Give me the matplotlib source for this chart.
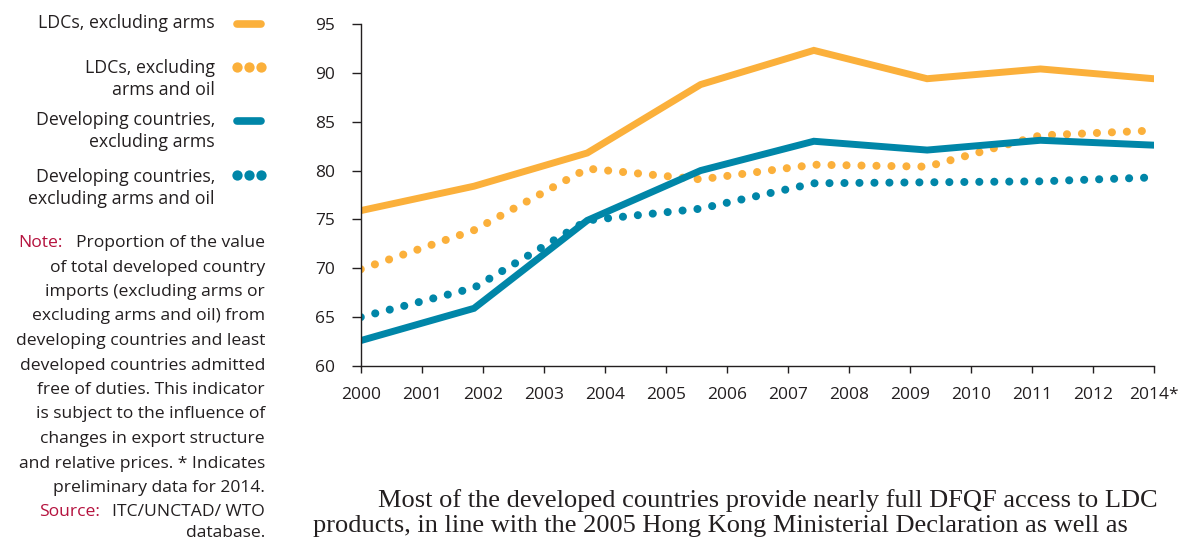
import matplotlib
matplotlib.use('Agg')
import matplotlib.pyplot as plt

plt.rcParams['font.family'] = ['Open Sans', 'DejaVu Sans']

# values (8 points, evenly spaced along the axis)
ldc_arms = [75.9, 78.4, 81.8, 88.8, 92.3, 89.4, 90.4, 89.4]
ldc_arms_oil = [69.9, 73.9, 80.2, 79.1, 80.6, 80.4, 83.6, 84.1]
dev_arms = [62.6, 65.9, 74.9, 80.0, 83.0, 82.1, 83.1, 82.6]
dev_arms_oil = [65.0, 68.0, 74.9, 76.1, 78.7, 78.8, 78.9, 79.3]

year_labels = ['2000', '2001', '2002', '2003', '2004', '2005', '2006',
               '2007', '2008', '2009', '2010', '2011', '2012', '2014*']
series_labels = ['LDCs, excluding arms', 'LDCs, excluding\narms and oil',
                 'Developing countries,\nexcluding arms',
                 'Developing countries,\nexcluding arms and oil']

orange = '#fbb03b'
blue = '#0086a8'
dark = '#231f20'
red = '#b5123e'

fig = plt.figure(figsize=(11.78, 5.4), dpi=100)
ax = fig.add_axes([360.7/1178, 1-366/540, (1153.7-360.7)/1178, (366-24)/540])

xs = list(range(len(ldc_arms)))
ax.plot(xs, ldc_arms, color=orange, lw=5, solid_capstyle='round', solid_joinstyle='miter')
ax.plot(xs, ldc_arms_oil, color=orange, lw=5.8, dashes=(0.01, 1.85), dash_capstyle='round')
ax.plot(xs, dev_arms, color=blue, lw=5, solid_capstyle='round', solid_joinstyle='miter')
ax.plot(xs, dev_arms_oil, color=blue, lw=5.8, dashes=(0.01, 1.85), dash_capstyle='round')

n = len(year_labels)
tick_pos = [i*(len(xs)-1)/(n-1) for i in range(n)]
ax.set_xticks(tick_pos)
ax.set_xticklabels(year_labels)
ax.set_yticks(range(60, 96, 5))
ax.set_xlim(0, len(xs)-1)
ax.set_ylim(60, 95)
for s in ['top', 'right']:
    ax.spines[s].set_visible(False)
for s in ['left', 'bottom']:
    ax.spines[s].set_color(dark)
    ax.spines[s].set_linewidth(1)
ax.tick_params(axis='y', length=6.5, width=1, color=dark, labelcolor=dark, labelsize=12.5, pad=12)
ax.tick_params(axis='x', length=5, width=1, color=dark, labelcolor=dark, labelsize=12.5, pad=10)
for lab in ax.get_xticklabels():
    lab.set_clip_on(False)

# overlay in pixel coordinates for legend, note and body text
ov = fig.add_axes([0, 0, 1, 1])
ov.set_xlim(0, 1178)
ov.set_ylim(540, 0)
ov.axis('off')

leg_y = [24, 67, 121, 175]
text_y = [23, 79, 131, 188]
styles = [(orange, False), (orange, True), (blue, False), (blue, True)]
for ly, ty, lab, (c, dotted) in zip(leg_y, text_y, series_labels, styles):
    ov.text(215, ty, lab, ha='right', va='center', fontsize=12.8, color=dark,
            linespacing=1.35)
    if dotted:
        ov.scatter([237, 249, 261], [ly, ly, ly], s=55, color=c, lw=0)
    else:
        ov.plot([237, 261], [ly, ly], color=c, lw=5.5, solid_capstyle='round')

note_lines = ['Proportion of the value', 'of total developed country',
              'imports (excluding arms or', 'excluding arms and oil) from',
              'developing countries and least', 'developed countries admitted',
              'free of duties. This indicator', 'is subject to the influence of',
              'changes in export structure', 'and relative prices. * Indicates',
              'preliminary data for 2014.']
y0 = 243
fs = 12.6
for i, line in enumerate(note_lines):
    ov.text(265, y0 + i*24.5, line, ha='right', va='center', fontsize=fs, color=dark)
ov.text(63, y0, 'Note:', ha='right', va='center', fontsize=fs, color=red)
ov.text(265, y0 + 11*24.5, 'ITC/UNCTAD/ WTO', ha='right', va='center', fontsize=fs, color=dark)
ov.text(100, y0 + 11*24.5, 'Source:', ha='right', va='center', fontsize=fs, color=red)
ov.text(265, y0 + 12*24.2, 'database.', ha='right', va='center', fontsize=fs, color=dark)

body1 = 'Most of the developed countries provide nearly full DFQF access to LDC'
body2 = 'products, in line with the 2005 Hong Kong Ministerial Declaration as well as'
ov.text(378, 507, body1, ha='left', va='baseline', fontsize=19,
        family='Liberation Serif', color=dark)
ov.text(313, 532, body2, ha='left', va='baseline', fontsize=19,
        family='Liberation Serif', color=dark)

fig.savefig('out.png', dpi=100)
